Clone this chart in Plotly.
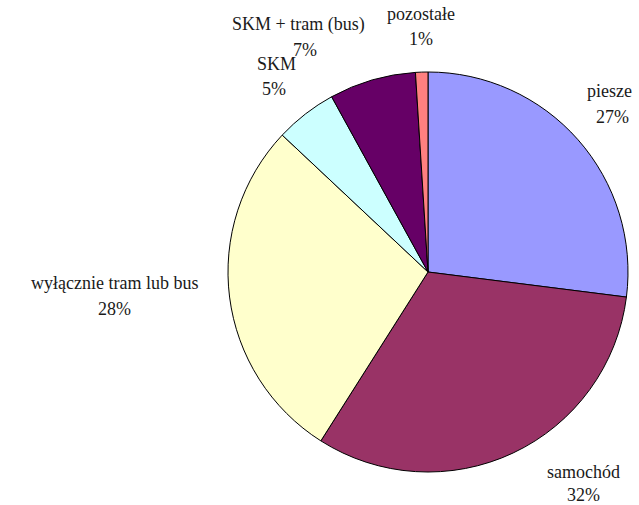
import plotly.graph_objects as go

labels = ["piesze", "samochód", "wyłącznie tram lub bus", "SKM", "SKM + tram (bus)", "pozostałe"]
values = [27, 32, 28, 5, 7, 1]
colors = ["#9999FF", "#993366", "#FFFFCC", "#CCFFFF", "#660066", "#FF8080"]

W, H = 639, 505
# label layout (pixel centres for name line and percent line)
label_pos = {
    "piesze": ((609, 91), (612, 117)),
    "samochód": ((583, 472), (583, 495)),
    "wyłącznie tram lub bus": ((115, 283), (115, 309)),
    "SKM": ((276, 64), (274, 89)),
    "SKM + tram (bus)": ((298, 24), (305, 50)),
    "pozostałe": ((421, 14), (421, 39)),
}

fig = go.Figure(go.Pie(
    labels=labels, values=values, sort=False, direction="clockwise", rotation=0,
    marker=dict(colors=colors, line=dict(color="#000000", width=1)),
    textinfo="none", hoverinfo="label+percent", showlegend=False,
    domain=dict(x=[228 / W, 628 / W], y=[(H - 472) / H, (H - 72) / H]),
))

total = sum(values)
font = dict(family="Liberation Serif, Times New Roman, serif", size=18, color="#1a1a1a")
for lab, v in zip(labels, values):
    (nx, ny), (px, py) = label_pos[lab]
    fig.add_annotation(x=nx / W, y=1 - ny / H, xref="paper", yref="paper", text=lab,
                       showarrow=False, font=font, xanchor="center", yanchor="middle")
    fig.add_annotation(x=px / W, y=1 - py / H, xref="paper", yref="paper",
                       text=f"{round(100 * v / total)}%",
                       showarrow=False, font=font, xanchor="center", yanchor="middle")

fig.update_layout(width=W, height=H, margin=dict(l=0, r=0, t=0, b=0),
                  paper_bgcolor="white", plot_bgcolor="white")
fig.write_html("out.html", config={"displayModeBar": False},
               post_script="document.body.style.margin='0';document.body.style.overflow='hidden';")
